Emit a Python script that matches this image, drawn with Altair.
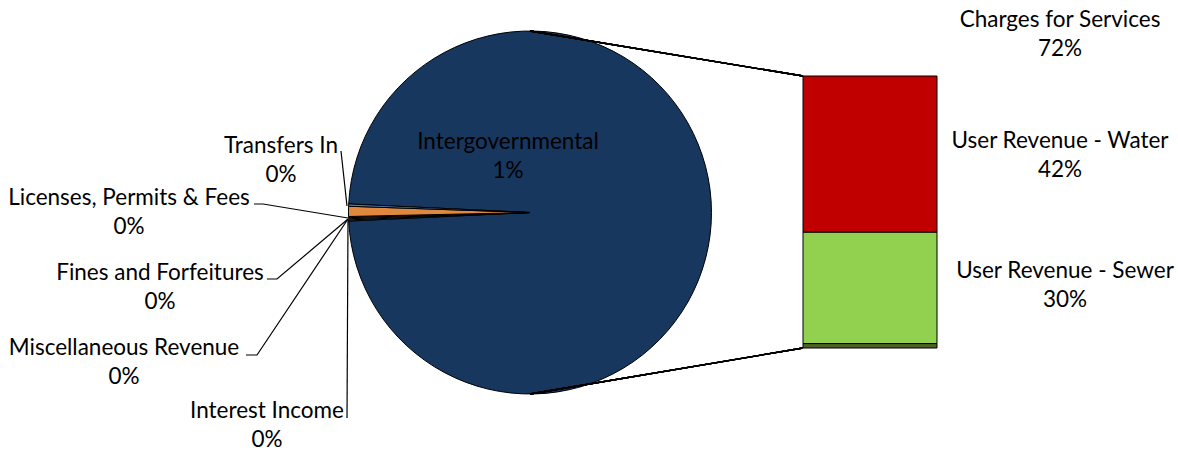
import math
import altair as alt
import pandas as pd

# ---------------- data ----------------
pie_categories = ["Charges for Services", "Interest Income", "Miscellaneous Revenue",
                  "Fines and Forfeitures", "Licenses, Permits & Fees",
                  "Intergovernmental", "Transfers In"]
pie_values = [98.5, 0.1, 0.1, 0.1, 0.1, 0.9, 0.2]
pie_labels = ["72%", "0%", "0%", "0%", "0%", "1%", "0%"]

bar_categories = ["User Revenue - Water", "User Revenue - Sewer", "Other Charges"]
bar_values = [42, 30, 1.2]
bar_labels = ["42%", "30%", ""]

# ---------------- styles / layout ----------------
pie_colors = ["#17375E", "#8064A2", "#4BACC6", "#9BBB59", "#C0504D", "#E0893E", "#4F81BD"]
bar_colors = ["#C00000", "#92D050", "#4F6228"]
FONT = "Lato"
FS = 22.5
PIE_CX, PIE_CY, PIE_R = 530, 212.5, 181.5
BAR_X0, BAR_X1, BAR_TOP, BAR_BOTTOM = 803, 937, 76, 348

# label anchor (center x, first-line baseline y)
label_layout = {
    "Charges for Services": (1060, 27),
    "User Revenue - Water": (1060, 148),
    "User Revenue - Sewer": (1065, 278),
    "Intergovernmental": (508, 149),
    "Transfers In": (281, 153),
    "Licenses, Permits & Fees": (129, 205),
    "Fines and Forfeitures": (160, 280),
    "Miscellaneous Revenue": (124, 355),
    "Interest Income": (267, 418),
}

leader_layout = {
    "Transfers In": [(341, 151), (347, 206)],
    "Licenses, Permits & Fees": [(254, 204), (263, 204), (348, 218)],
    "Fines and Forfeitures": [(267, 279), (277, 279), (348, 219)],
    "Miscellaneous Revenue": [(246, 355), (257, 355), (348, 219)],
    "Interest Income": [(347, 418), (348, 220)],
}

# ---------------- tables ----------------
pie_df = pd.DataFrame({
    "category": pie_categories,
    "value": pie_values,
    "idx": list(range(len(pie_categories))),
})
total = sum(pie_values)
frac = pie_values[0] / total
start = math.pi / 2 - math.pi * frac  # center the aggregated slice on the right

# bar stacked from the bottom: last category at bottom
b_rows = []
acc = 0.0
for cat, val in reversed(list(zip(bar_categories, bar_values))):
    b_rows.append({"category": cat, "y0": acc, "y1": acc + val})
    acc += val
bar_df = pd.DataFrame(b_rows)
bar_total = acc

all_names = pie_categories + bar_categories
all_pcts = pie_labels + bar_labels
lab_rows = []
for n, p in zip(all_names, all_pcts):
    if n in label_layout:
        x, y = label_layout[n]
        lab_rows.append({"text": n + "\n" + p, "x": x, "y": y})
lab_df = pd.DataFrame(lab_rows)

lead_rows = []
for n, pts in leader_layout.items():
    for i, (x, y) in enumerate(pts):
        lead_rows.append({"name": n, "seq": i, "x": x, "y": y})
lead_df = pd.DataFrame(lead_rows)

# ---------------- layers ----------------
pie = alt.Chart(pie_df).mark_arc(
    radius=PIE_R, x=PIE_CX, y=PIE_CY, stroke="black", strokeWidth=1
).encode(
    theta=alt.Theta("value:Q", stack=True,
                    scale=alt.Scale(range=[start, start + 2 * math.pi])),
    color=alt.Color("category:N", scale=alt.Scale(domain=pie_categories, range=pie_colors),
                    legend=None),
    order=alt.Order("idx:Q"),
)

bar = alt.Chart(bar_df).mark_rect(stroke="black", strokeWidth=1).encode(
    x=alt.value(BAR_X0),
    x2=alt.value(BAR_X1),
    y=alt.Y("y0:Q", axis=None, scale=alt.Scale(domain=[0, bar_total], range=[BAR_BOTTOM, BAR_TOP])),
    y2="y1:Q",
    color=alt.Color("category:N", scale=alt.Scale(domain=bar_categories, range=bar_colors),
                    legend=None),
)

conn_top = alt.Chart(pie_df).mark_rule(color="black", strokeWidth=1.3).encode(
    x=alt.value(PIE_CX), y=alt.value(PIE_CY - PIE_R),
    x2=alt.value(BAR_X0), y2=alt.value(BAR_TOP),
)
conn_bot = alt.Chart(pie_df).mark_rule(color="black", strokeWidth=1.3).encode(
    x=alt.value(PIE_CX), y=alt.value(PIE_CY + PIE_R),
    x2=alt.value(BAR_X0), y2=alt.value(BAR_BOTTOM),
)

leaders = alt.Chart(lead_df).mark_line(color="black", strokeWidth=1.2).encode(
    x=alt.X("x:Q", scale=None),
    y=alt.Y("y:Q", scale=None),
    detail="name:N",
    order="seq:Q",
)

labels = alt.Chart(lab_df).mark_text(
    font=FONT, fontSize=FS, lineBreak="\n", lineHeight=28.5,
    align="center", baseline="alphabetic", color="black"
).encode(
    x=alt.X("x:Q", scale=None),
    y=alt.Y("y:Q", scale=None),
    text="text:N",
)

chart = alt.layer(pie, conn_top, conn_bot, bar, leaders, labels).resolve_scale(
    x="independent", y="independent", color="independent", theta="independent"
).properties(
    width=1178, height=450, padding=0,
    autosize=alt.AutoSizeParams(type="none"),
    background="white",
).configure_view(stroke=None)

chart.save("out.html", embed_options={"renderer": "svg", "actions": False})
